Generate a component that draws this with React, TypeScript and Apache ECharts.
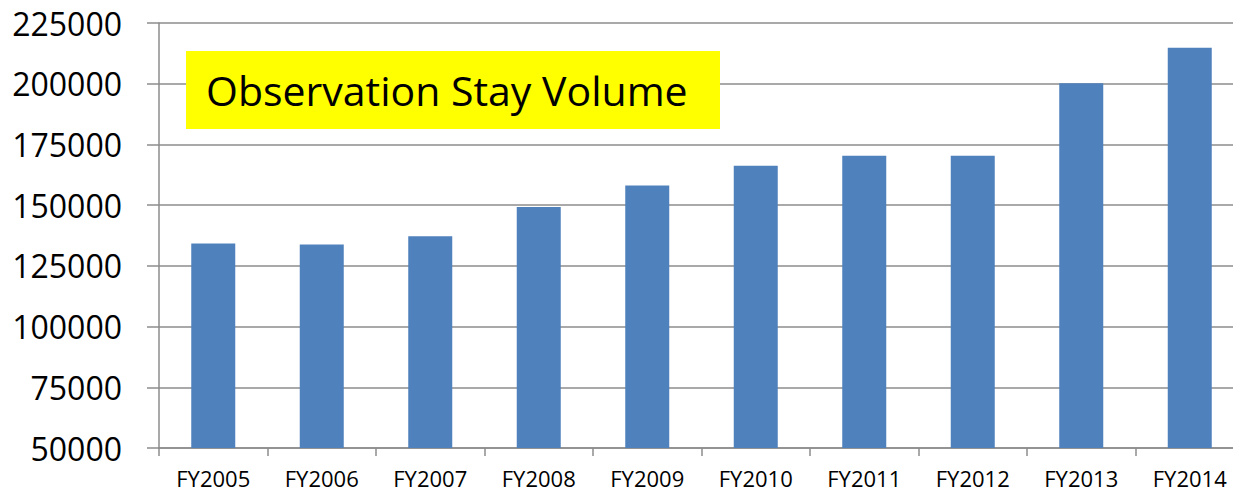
import React, { useEffect, useRef } from "react";
import * as echarts from "echarts";

const categories = ["FY2005", "FY2006", "FY2007", "FY2008", "FY2009", "FY2010", "FY2011", "FY2012", "FY2013", "FY2014"];
const volumes = [134200, 133800, 137200, 149200, 158100, 166200, 170300, 170300, 200200, 214800];
const yMin = 50000;
const yMax = 225000;
const yInterval = 25000;
const titleText = "Observation Stay Volume";

export default function App() {
  const ref = useRef<HTMLDivElement>(null);
  useEffect(() => {
    if (!ref.current) return;
    const chart = echarts.init(ref.current, null, { renderer: "svg" });
    chart.setOption({
      animation: false,
      backgroundColor: "#ffffff",
      grid: { left: 159, top: 23, bottom: 46, right: 16, containLabel: false },
      xAxis: {
        type: "category",
        data: categories,
        axisLine: { show: true, lineStyle: { color: "#8c8c8c", width: 1.5 } },
        axisTick: { show: true, length: 8, lineStyle: { color: "#8c8c8c", width: 1.5 } },
        axisLabel: { color: "#000", fontFamily: "Open Sans", fontSize: 22, margin: 19, lineHeight: 22 },
        splitLine: { show: false },
      },
      yAxis: {
        type: "value",
        min: yMin,
        max: yMax,
        interval: yInterval,
        axisLine: { show: true, lineStyle: { color: "#8c8c8c", width: 1.5 } },
        axisTick: { show: true, inside: false, length: 12, lineStyle: { color: "#8c8c8c", width: 1.5 } },
        axisLabel: {
          color: "#000",
          fontFamily: "Open Sans",
          fontSize: 32,
          margin: 37,
          formatter: (v: number) => String(v),
        },
        splitLine: { show: true, lineStyle: { color: "#8c8c8c", width: 1.5 } },
      },
      series: [
        {
          type: "bar",
          data: volumes,
          barWidth: 44,
          itemStyle: { color: "#4f81bd" },
        },
      ],
      graphic: [
        {
          type: "rect",
          shape: { x: 186, y: 51, width: 534, height: 78 },
          style: { fill: "#ffff00" },
          z: 10,
        },
        {
          type: "text",
          x: 206,
          y: 90,
          style: {
            text: titleText,
            fill: "#000",
            fontFamily: "Open Sans",
            fontSize: 41,
            verticalAlign: "middle",
            align: "left",
          },
          z: 11,
        },
      ],
    });
    return () => chart.dispose();
  }, []);
  return (
    <div style={{ position: "absolute", left: 0, top: 0, width: 1233, height: 494, overflow: "hidden", background: "#fff" }}>
      <div ref={ref} style={{ width: 1260, height: 494 }} />
    </div>
  );
}
